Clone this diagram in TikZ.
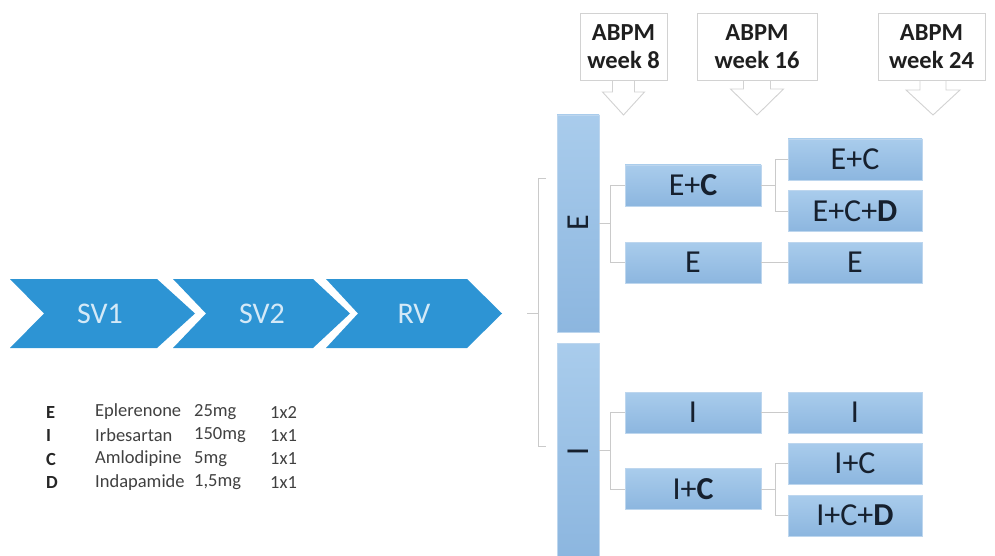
\documentclass[tikz,border=0pt]{standalone}
\usepackage{fontspec}
\setmainfont{Carlito}
\usetikzlibrary{calc}
\definecolor{chev}{HTML}{2D94D4}
\definecolor{chevtxt}{HTML}{D4E9F7}
\definecolor{boxtop}{HTML}{A9CCEC}
\definecolor{boxbot}{HTML}{8CB6DF}
\definecolor{boxedge}{HTML}{BDD6EE}
\definecolor{boxtxt}{HTML}{16202E}
\definecolor{linegrey}{HTML}{CACACA}
\definecolor{abpmedge}{HTML}{D2D2D2}
\definecolor{legtxt}{HTML}{404040}
\begin{document}
\begin{tikzpicture}[x=1pt,y=-1pt,
  chevsty/.style={fill=chev},
  chevlab/.style={text=chevtxt, font=\fontsize{30}{31}\selectfont, inner sep=0pt},
  boxsty/.style={draw=boxedge, line width=0.8pt, top color=boxtop, bottom color=boxbot,
    inner sep=0pt, font=\fontsize{32}{33}\selectfont, text=boxtxt},
  colA/.style={boxsty, minimum width=136pt, minimum height=41pt},
  colB/.style={boxsty, minimum width=134pt, minimum height=41pt},
  barsty/.style={boxsty, minimum width=42pt},
  barlab/.style={rotate=90, text=boxtxt, font=\fontsize{32}{33}\selectfont, inner sep=0pt},
  conn/.style={draw=linegrey, line width=0.9pt},
  abpm/.style={draw=abpmedge, line width=0.9pt, fill=white, align=center,
    font=\bfseries\fontsize{24.5}{27.5}\selectfont, text=black!88, minimum height=67pt, inner sep=0pt},
  arrsty/.style={draw=abpmedge, line width=0.9pt, fill=white, line join=miter},
  legkey/.style={anchor=west, font=\bfseries\fontsize{18.5}{19}\selectfont, text=black!85, inner sep=0pt},
  legtxtsty/.style={anchor=west, font=\fontsize{18.5}{19}\selectfont, text=legtxt, inner sep=0pt}
]
\useasboundingbox (0,0) rectangle (995,556);

% chevrons
\fill[chevsty] (10,279) -- (157,279) -- (195,313.5) -- (157,348) -- (10,348) -- (44,313.5) -- cycle;
\fill[chevsty] (173,279) -- (313,279) -- (350,313.5) -- (313,348) -- (173,348) -- (206,313.5) -- cycle;
\fill[chevsty] (326,279) -- (467,279) -- (502,313.5) -- (467,348) -- (326,348) -- (358,313.5) -- cycle;
\node[chevlab] (sv1) at (100,313.5) {SV1};
\node[chevlab] (sv2) at (262,313.5) {SV2};
\node[chevlab] (rv) at (414,313.5) {RV};

% legend
\node[legkey] (k1) at (46,412) {E};
\node[legkey] (k2) at (46,435.5) {I};
\node[legkey] (k3) at (46,459) {C};
\node[legkey] (k4) at (46,482.5) {D};
\node[legtxtsty] (n1) at (95,412) {Eplerenone};
\node[legtxtsty] (n2) at (95,435.5) {Irbesartan};
\node[legtxtsty] (n3) at (95,459) {Amlodipine};
\node[legtxtsty] (n4) at (95,482.5) {Indapamide};
\node[legtxtsty] (d1) at (194,412) {25mg};
\node[legtxtsty] (d2) at (194,435.5) {150mg};
\node[legtxtsty] (d3) at (194,459) {5mg};
\node[legtxtsty] (d4) at (194,482.5) {1,5mg};
\node[legtxtsty] (f1) at (270,412) {1x2};
\node[legtxtsty] (f2) at (270,435.5) {1x1};
\node[legtxtsty] (f3) at (270,459) {1x1};
\node[legtxtsty] (f4) at (270,482.5) {1x1};

% big bracket
\coordinate (bl) at (527,313);
\coordinate (bm) at (538,313);
\coordinate (bt) at (546,178);
\coordinate (bb) at (546,446);
\draw[conn] (bl) -- (bm);
\draw[conn] (bt) -- (538,178) -- (538,446) -- (bb);

% bars
\node[barsty, minimum height=217pt] (ebar) at (578,223.5) {};
\node[barlab] (elab) at (578,223) {E};
\node[barsty, minimum height=215pt] (ibar) at (578,450.5) {};
\node[barlab] (ilab) at (578,451) {I};

% column 2
\node[colA] (e2a) at (693,185.5) {E+\textbf{C}};
\node[colA] (e2b) at (693,262.5) {E};
\node[colA] (i2a) at (693,412.5) {I};
\node[colA] (i2b) at (693,489) {I+\textbf{C}};

% column 3
\node[colB] (e3a) at (855,159.5) {E+C};
\node[colB] (e3b) at (855,211) {E+C+\textbf{D}};
\node[colB] (e3c) at (855,262.5) {E};
\node[colB] (i3a) at (855,412.5) {I};
\node[colB] (i3b) at (855,463.5) {I+C};
\node[colB] (i3c) at (855,515.5) {I+C+\textbf{D}};

% connectors
\draw[conn] (ebar.east) -- ++(11,0) coordinate (ej) |- (e2a.west);
\draw[conn] (ej) |- (e2b.west);
\draw[conn] (ibar.east) -- ++(11,0) coordinate (ij) |- (i2a.west);
\draw[conn] (ij) |- (i2b.west);
\draw[conn] (e2a.east) -- ++(14,0) coordinate (ek) |- (e3a.west);
\draw[conn] (ek) |- (e3b.west);
\draw[conn] (e2b.east) -- (e3c.west);
\draw[conn] (i2a.east) -- (i3a.west);
\draw[conn] (i2b.east) -- ++(14,0) coordinate (ik) |- (i3b.west);
\draw[conn] (ik) |- (i3c.west);

% ABPM boxes and arrows
\draw[arrsty] ($(623.5,79)+(-11,0)$) -- ++(0,13) -- ++(-10,0) -- (623.5,115) -- (644.5,92) -- ++(-10,0) -- ++(0,-13);
\draw[arrsty] ($(757,79)+(-13.5,0)$) -- ++(0,10) -- ++(-13,0) -- (757,115) -- (783.5,89) -- ++(-13,0) -- ++(0,-10);
\draw[arrsty] ($(933,79)+(-13,0)$) -- ++(0,11) -- ++(-14,0) -- (933,115) -- (960,90) -- ++(-14,0) -- ++(0,-11);
\node[abpm, minimum width=87pt] (a1) at (623.5,46.5) {ABPM\\week 8};
\node[abpm, minimum width=120pt] (a2) at (757,46.5) {ABPM\\week 16};
\node[abpm, minimum width=107pt] (a3) at (931.5,46.5) {ABPM\\week 24};
\end{tikzpicture}
\end{document}
